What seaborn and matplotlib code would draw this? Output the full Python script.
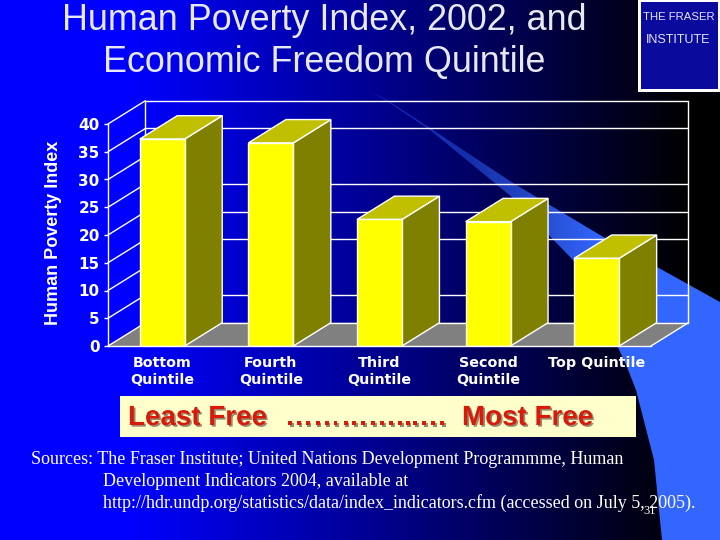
import numpy as np
import pandas as pd
import seaborn as sns
import matplotlib
matplotlib.use("Agg")
import matplotlib.pyplot as plt
import matplotlib.patheffects as pe
from matplotlib.patches import Polygon, Rectangle

# values
quintiles = ["Bottom\nQuintile", "Fourth\nQuintile", "Third\nQuintile", "Second\nQuintile", "Top Quintile"]
hpi = [37.3, 36.6, 22.8, 22.4, 15.8]
y_ticks = [0, 5, 10, 15, 20, 25, 30, 35, 40]
back_wall_ticks = [0, 5, 15, 20, 25, 35, 40]  # 10 and 30 are not drawn on the back wall

title_lines = ["Human Poverty Index, 2002, and", "Economic Freedom Quintile"]
source_lines = [
    "Sources: The Fraser Institute; United Nations Development Programmme, Human",
    "Development Indicators 2004, available at",
    "http://hdr.undp.org/statistics/data/index_indicators.cfm (accessed on July 5, 2005).",
]
banner_parts = ["Least Free", "…………...…", "Most Free"]

sns.set_theme(style="white")
plt.rcParams["font.family"] = ["Liberation Sans", "DejaVu Sans"]

fig = plt.figure(figsize=(7.2, 5.4), dpi=100)

# slide background, in pixel coordinates
bg = fig.add_axes([0, 0, 1, 1])
bg.set_xlim(0, 720)
bg.set_ylim(540, 0)
bg.axis("off")

grad = np.clip((690 - np.arange(720)) / 560, 0, 1)
blue = np.zeros((1, 720, 3))
blue[0, :, 2] = grad
bg.imshow(blue, extent=[0, 720, 540, 0], aspect="auto", zorder=0)

# swoosh, fading in towards the lower right
upper = [(370, 91), (387, 100), (430, 128), (513, 183), (600, 235), (657, 267), (720, 302)]
lower = [(720, 540), (662, 540), (654, 460), (636, 390), (627, 367), (602, 312), (573, 260), (513, 198), (430, 130), (387, 101)]
swoosh = Polygon(upper + lower, closed=True, transform=bg.transData, fc="none", ec="none")
bg.add_patch(swoosh)
fade = np.zeros((1, 720, 4))
fade[0, :, :3] = (0.2, 0.4, 1.0)
fade[0, :, 3] = np.clip(0.45 + (np.arange(720) - 470) / 130 * 0.55, 0.45, 1)
img = bg.imshow(fade, extent=[0, 720, 540, 0], aspect="auto", zorder=1)
img.set_clip_path(swoosh)
bg.set_xlim(0, 720)
bg.set_ylim(540, 0)

# logo
bg.add_patch(Rectangle((638, 0), 82, 92, fc="white", ec="none", zorder=2))
bg.add_patch(Rectangle((641, 2), 77, 87, fc="#0A0A9C", ec="none", zorder=3))
bg.text(679, 17, "THE FRASER", color="#E4E4F8", fontsize=8.2, ha="center", va="center", zorder=4)
bg.text(678, 40, "INSTITUTE", color="#E4E4F8", fontsize=9, ha="center", va="center", zorder=4)

# title
for line, y in zip(title_lines, [21, 62.5]):
    bg.text(324, y, line, color="#E8E8F0", fontsize=25.8, ha="center", va="center", zorder=4)

# banner
bg.add_patch(Rectangle((120, 396), 516, 41, fc="#FFFFCC", ec="none", zorder=2))
shadow = [pe.SimplePatchShadow(offset=(1.2, -1.2), shadow_rgbFace="#9A8A70", alpha=1), pe.Normal()]
for part, x in zip(banner_parts, [128, 285, 462]):
    bg.text(x, 418, part, color="#D81A0A", fontsize=20, weight="bold", ha="left", va="center", zorder=4,
            path_effects=shadow)

# sources
for line, x, y in zip(source_lines, [31, 103, 103], [460, 481, 503]):
    bg.text(x, y, line, color="white", fontsize=13, family="Liberation Serif", ha="left", va="center", zorder=4)
bg.text(650, 511, "31", color="white", fontsize=9, family="Liberation Serif", ha="center", va="center", zorder=5)

# chart, front plane 108-651 px wide, 124-346 px high
ax = fig.add_axes([108 / 720, (540 - 346) / 540, 543 / 720, 222 / 540])
ax.patch.set_alpha(0)
df = pd.DataFrame({"quintile": quintiles, "hpi": hpi})
sns.barplot(data=df, x="quintile", y="hpi", color="#FFFF00", saturation=1, width=0.414,
            edgecolor="white", linewidth=1, ax=ax, zorder=5)
ax.set_xlim(-0.5, 4.5)
ax.set_ylim(0, 40)

# depth of the fake 3D box
dx, dy = 0.345, 4.2
x0, x1 = ax.get_xlim()

ax.add_patch(Polygon([(x0, 0), (x0 + dx, dy), (x1 + dx, dy), (x1, 0)], fc="#808080", ec="none", zorder=1, clip_on=False))
for t in y_ticks:
    ax.plot([x0, x0 + dx], [t, t + dy], color="white", lw=1, zorder=2, clip_on=False)
for t in back_wall_ticks:
    ax.plot([x0 + dx, x1 + dx], [t + dy, t + dy], color="white", lw=1, zorder=2, clip_on=False)
ax.plot([x0 + dx, x0 + dx], [dy, 40 + dy], color="white", lw=1, zorder=2, clip_on=False)
ax.plot([x1 + dx, x1 + dx], [dy, 40 + dy], color="white", lw=1, zorder=2, clip_on=False)
ax.plot([x1, x1 + dx], [0, dy], color="white", lw=1, zorder=2, clip_on=False)

for bar in ax.patches[:len(hpi)]:
    left, w, h = bar.get_x(), bar.get_width(), bar.get_height()
    right = left + w
    ax.add_patch(Polygon([(right, 0), (right + dx, dy), (right + dx, h + dy), (right, h)],
                         fc="#808000", ec="white", lw=1, zorder=4, clip_on=False))
    ax.add_patch(Polygon([(left, h), (left + dx, h + dy), (right + dx, h + dy), (right, h)],
                         fc="#C0C000", ec="white", lw=1, zorder=4, clip_on=False))

sns.despine(ax=ax, top=True, right=True)
for side in ["left", "bottom"]:
    ax.spines[side].set_color("white")
    ax.spines[side].set_linewidth(1)
    ax.spines[side].set_zorder(6)
ax.set_yticks(y_ticks)
ax.set_xticks(np.arange(-0.5, 5, 1), minor=True)
ax.tick_params(axis="x", which="major", length=0, pad=7, labelcolor="white")
ax.tick_params(axis="x", which="minor", length=3, color="white", width=1, direction="out")
ax.tick_params(axis="y", length=3, color="white", width=1, direction="out", pad=3, labelcolor="white", left=True)
for lab in ax.get_xticklabels():
    lab.set_family("DejaVu Sans")
    lab.set_weight("bold")
    lab.set_fontsize(10.3)
    lab.set_linespacing(1.3)
for lab in ax.get_yticklabels():
    lab.set_family("DejaVu Sans")
    lab.set_weight("bold")
    lab.set_fontsize(11)
ax.set_xlabel("")
ax.set_ylabel("")
bg.text(54, 233, "Human Poverty Index", color="white", fontsize=13, weight="bold", rotation=90,
        ha="center", va="center", zorder=4)

fig.savefig("out.png", dpi=100)
